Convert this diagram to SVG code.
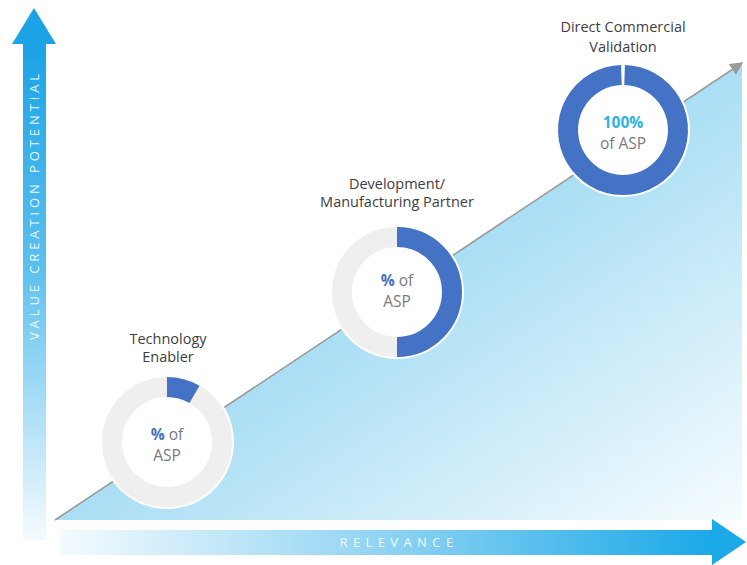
<svg xmlns="http://www.w3.org/2000/svg" width="747" height="565" viewBox="0 0 747 565">
  <defs>
    <linearGradient id="vGrad" x1="0" y1="44" x2="0" y2="540" gradientUnits="userSpaceOnUse">
      <stop offset="0" stop-color="#1ba3e6"/>
      <stop offset="0.45" stop-color="#5cc0ee"/>
      <stop offset="1" stop-color="#f4fbfe"/>
    </linearGradient>
    <linearGradient id="hGrad" x1="60" y1="0" x2="712" y2="0" gradientUnits="userSpaceOnUse">
      <stop offset="0" stop-color="#f4fbfe"/>
      <stop offset="0.5" stop-color="#8fd3f2"/>
      <stop offset="1" stop-color="#1ba9e8"/>
    </linearGradient>
    <linearGradient id="triGrad" x1="531" y1="203" x2="742" y2="520" gradientUnits="userSpaceOnUse">
      <stop offset="0" stop-color="#a9def4"/>
      <stop offset="1" stop-color="#f6fcfe"/>
    </linearGradient>
    <marker id="lineHead" viewBox="0 0 10 10" refX="9" refY="5" markerWidth="13" markerHeight="13" orient="auto" markerUnits="userSpaceOnUse">
      <path d="M0,0 L10,5 L0,10 Z" fill="#9a9a9a"/>
    </marker>
  </defs>
  <style>
    .axis-label { font-family: "Open Sans", "Liberation Sans", Arial, sans-serif; font-size: 13px; fill: #ffffff; fill-opacity: 0.9; }
    .label { font-family: "Open Sans", "Liberation Sans", Arial, sans-serif; font-size: 14.5px; fill: #404040; text-anchor: middle; }
    .inner { font-family: "Open Sans", "Liberation Sans", Arial, sans-serif; font-size: 15.5px; fill: #7a7a7a; text-anchor: middle; }
    .pct { fill: #4472c4; font-weight: bold; }
    .pct100 { fill: #2bb3e3; font-weight: bold; }
    .track { fill: none; stroke: #efefef; stroke-width: 20; }
    .share { fill: none; stroke: #4472c4; stroke-width: 20; }
    .halo { fill: #ffffff; }
  </style>

  <rect width="747" height="565" fill="#ffffff"/>

  <!-- rising area under the trend line -->
  <polygon points="55,520 742,63 742,520" fill="url(#triGrad)"/>

  <!-- axes -->
  <g id="axis-y">
    <polygon points="23,44 12,44 34,8 56,44 46,44 46,540 23,540" fill="url(#vGrad)"/>
    <text class="axis-label" transform="translate(39,205) rotate(-90)" text-anchor="middle" letter-spacing="3.9">VALUE CREATION POTENTIAL</text>
  </g>
  <g id="axis-x">
    <polygon points="60,530 712,530 712,519 746,542 712,565 712,555 60,555" fill="url(#hGrad)"/>
    <text class="axis-label" x="399" y="547" text-anchor="middle" letter-spacing="5.4">RELEVANCE</text>
  </g>

  <!-- trend line -->
  <g id="connectors">
    <line x1="55" y1="520" x2="742" y2="63" stroke="#9a9a9a" stroke-width="1.6" marker-end="url(#lineHead)"/>
  </g>

  <!-- stage 1 -->
  <g id="technology-enabler">
    <circle class="halo" cx="167" cy="442" r="67"/>
    <circle class="track" cx="167" cy="442" r="55"/>
    <path class="share" d="M167,387 A55,55 0 0 1 194.5,394.4"/>
    <text class="inner" x="167" y="440"><tspan class="pct">%</tspan> of</text>
    <text class="inner" x="167" y="461">ASP</text>
    <text class="label" x="168" y="344">Technology</text>
    <text class="label" x="168" y="362">Enabler</text>
  </g>

  <!-- stage 2 -->
  <g id="development-partner">
    <circle class="halo" cx="397" cy="292" r="67"/>
    <circle class="track" cx="397" cy="292" r="55"/>
    <path class="share" d="M397,237 A55,55 0 0 1 397,347"/>
    <text class="inner" x="397" y="286"><tspan class="pct">%</tspan> of</text>
    <text class="inner" x="397" y="307">ASP</text>
    <text class="label" x="397" y="189">Development/</text>
    <text class="label" x="397" y="207">Manufacturing Partner</text>
  </g>

  <!-- stage 3 -->
  <g id="direct-commercial-validation">
    <circle class="halo" cx="623" cy="130" r="67"/>
    <path class="share" d="M624.6,75.02 A55,55 0 1 1 621.4,75.02"/>
    <text class="inner" x="623" y="128"><tspan class="pct100">100%</tspan></text>
    <text class="inner" x="623" y="149">of ASP</text>
    <text class="label" x="623" y="32">Direct Commercial</text>
    <text class="label" x="623" y="52">Validation</text>
  </g>
</svg>
